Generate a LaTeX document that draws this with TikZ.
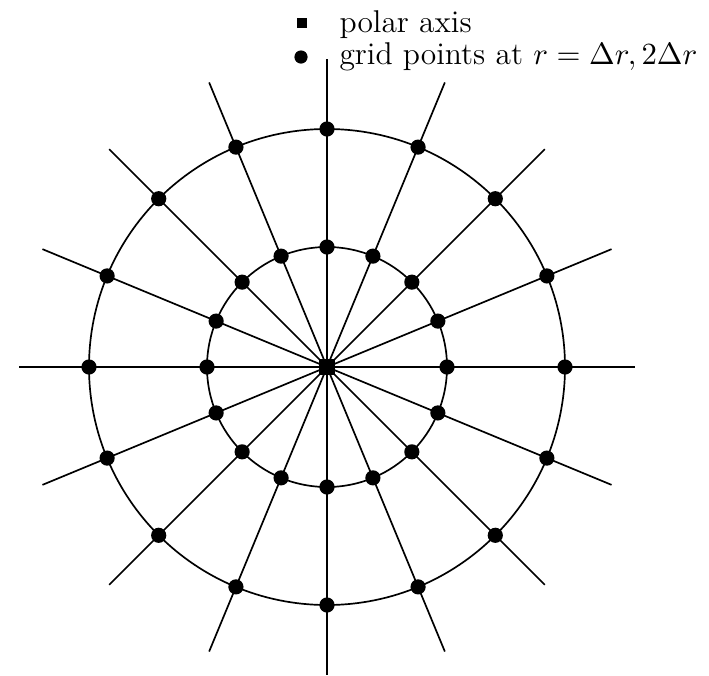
\documentclass[tikz,border=0pt]{standalone}
\usepackage{tikz}
\usetikzlibrary{positioning}

\begin{document}
\begin{tikzpicture}[
    x=0.0125cm, y=0.0125cm,
    ray/.style={line width=0.6pt, color=black},
    ring/.style={line width=0.6pt, color=black},
    gridpt/.style={circle, fill=black, inner sep=0pt, minimum size=0.19cm},
    axispt/.style={rectangle, fill=black, inner sep=0pt, minimum size=0.21cm},
    legtxt/.style={anchor=base west, inner sep=0pt, font=\fontsize{11.2}{13}\selectfont},
]
\useasboundingbox (-327,-308) rectangle (382,367);

\coordinate (origin) at (0,0);

% rays
\foreach \i in {0,...,15} {
  \coordinate (tip\i) at ({\i*22.5}:308);
  \draw[ray] (origin) -- (tip\i);
}

% circles
\draw[ring] (origin) circle (120);
\draw[ring] (origin) circle (238);

% grid points
\foreach \i in {0,...,15} {
  \node[gridpt] (inner\i) at ({\i*22.5}:120) {};
  \node[gridpt] (outer\i) at ({\i*22.5}:238) {};
}

\node[axispt] (axis) at (origin) {};

% legend
\node[axispt, minimum size=0.125cm] (legsq) at (-25,344) {};
\node[gridpt, minimum size=0.165cm] (legdot) at (-26,310) {};
\node[legtxt] (legaxis) at (12,335) {polar axis};
\node[legtxt] (leggrid) at (12,303) {grid points at $r = \Delta r, 2\Delta r$};
\end{tikzpicture}
\end{document}
